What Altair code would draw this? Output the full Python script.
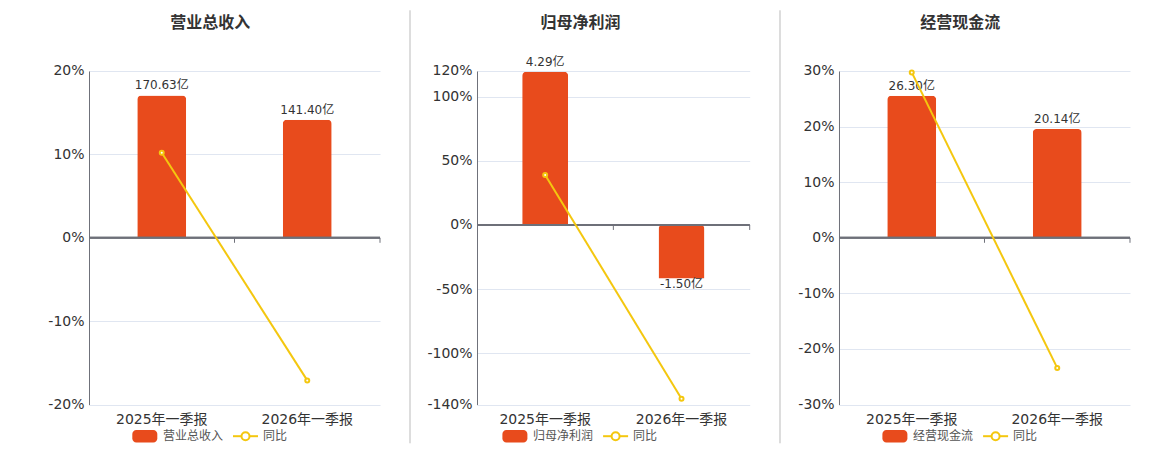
import altair as alt
import pandas as pd

# ---------------- data ----------------
periods = ["2025年一季报", "2026年一季报"]

titles = ["营业总收入", "归母净利润", "经营现金流"]

revenue = [170.63, 141.40]
revenue_yoy = [10.2, -17.1]

profit = [4.29, -1.50]
profit_yoy = [39.0, -135.4]

cashflow = [26.30, 20.14]
cashflow_yoy = [29.75, -23.4]

yoy_name = "同比"

ticks_revenue = [-20, -10, 0, 10, 20]
ticks_profit = [-140, -100, -50, 0, 50, 100, 120]
ticks_cashflow = [-30, -20, -10, 0, 10, 20, 30]

# ---------------- style ----------------
BAR = "#E84B1C"
YEL = "#F4C70F"
AXIS = "#6E7079"
GRID = "#E0E6F1"
TXT = "#333333"
FONT = "DejaVu Sans, Noto Sans CJK SC"
H = 333.6


def panel(title, values, yoy, ticks, bar_domain, width, legend_x, title_x,
          sep_x=None, anchor=False):
    df = pd.DataFrame({"period": periods, "value": values, "yoy": yoy})
    ydom = [min(ticks), max(ticks)]
    base = alt.Chart(df)
    xenc = alt.X("period:N", sort=periods,
                 scale=alt.Scale(paddingInner=0, paddingOuter=0),
                 axis=alt.Axis(title=None, labelAngle=0, ticks=False, domain=False,
                               labelFontSize=14, labelColor=TXT, labelFont=FONT,
                               labelPadding=8))
    ybar = alt.Y("value:Q", scale=alt.Scale(domain=bar_domain, nice=False, zero=False),
                 axis=None)
    bars = base.mark_bar(color=BAR, width=round(width * 0.168), cornerRadiusEnd=4).encode(
        x=xenc, y=ybar)
    lab = base.transform_calculate(
        label="(datum.value < 0 ? '-' : '') + format(abs(datum.value), '.2f') + '亿'")
    lab_pos = lab.transform_filter("datum.value >= 0").mark_text(
        baseline="alphabetic", dy=-6, fontSize=12, color=TXT, font=FONT).encode(
        x="period:N", y=ybar, text="label:N")
    lab_neg = lab.transform_filter("datum.value < 0").mark_text(
        baseline="top", dy=0, fontSize=12, color=TXT, font=FONT).encode(
        x="period:N", y=ybar, text="label:N")

    yscale = alt.Scale(domain=ydom, nice=False, zero=False)
    yline = alt.Y("yoy:Q", scale=yscale,
                  axis=alt.Axis(orient="left", title=None, values=ticks,
                                labelExpr="datum.value + '%'", grid=True,
                                gridColor=GRID, gridWidth=1, domain=True,
                                domainColor=AXIS, domainWidth=1, ticks=False,
                                labelFontSize=14, labelColor=TXT, labelFont=FONT,
                                labelPadding=5, labelOverlap=False))
    zero = base.mark_rule(color=AXIS, strokeWidth=2).encode(
        y=alt.Y(datum=0, scale=yscale, axis=None),
        x=alt.value(0), x2=alt.value(width))
    tks = base.mark_rule(color=AXIS, strokeWidth=1, y2Offset=5).encode(
        x=alt.X("period:N", bandPosition=1),
        y=alt.Y(datum=0, scale=yscale, axis=None),
        y2=alt.Y2(datum=0))
    line = base.mark_line(color=YEL, strokeWidth=2).encode(x="period:N", y=yline)
    pts = base.mark_point(filled=True, fill="white", stroke=YEL, strokeWidth=2,
                          size=16, opacity=1).encode(
        x="period:N", y=alt.Y("yoy:Q", scale=yscale, axis=None))

    one = alt.Chart(pd.DataFrame({"k": [0]}))
    ly = 365.2
    ttl = one.mark_text(fontSize=16, fontWeight="bold", color=TXT,
                        font="Noto Sans CJK SC", baseline="middle", align="center").encode(
        x=alt.value(title_x), y=alt.value(-47.7), text=alt.value(title))
    leg_rect = one.mark_rect(color=BAR, cornerRadius=4).encode(
        x=alt.value(legend_x), x2=alt.value(legend_x + 25),
        y=alt.value(ly - 6.3), y2=alt.value(ly + 6.3))
    leg_t1 = one.mark_text(fontSize=12, color="#555555", font=FONT, align="left",
                           baseline="middle").encode(
        x=alt.value(legend_x + 30.7), y=alt.value(ly), text=alt.value(title))
    leg_line = one.mark_rule(color=YEL, strokeWidth=2).encode(
        x=alt.value(legend_x + 100.7), x2=alt.value(legend_x + 125.7), y=alt.value(ly))
    leg_pt = one.mark_point(filled=True, fill="white", stroke=YEL, strokeWidth=2,
                            size=64, opacity=1).encode(
        x=alt.value(legend_x + 113.2), y=alt.value(ly))
    leg_t2 = one.mark_text(fontSize=12, color="#555555", font=FONT, align="left",
                           baseline="middle").encode(
        x=alt.value(legend_x + 130.7), y=alt.value(ly), text=alt.value(yoy_name))

    layers = [bars, lab_pos, lab_neg, zero, tks, line, pts, ttl,
              leg_rect, leg_t1, leg_line, leg_pt, leg_t2]
    if sep_x is not None:
        layers.append(one.mark_rule(color="#BBBBBB", strokeWidth=1).encode(
            x=alt.value(sep_x), y=alt.value(-60.7), y2=alt.value(372.3)))
    if anchor:
        layers.append(one.mark_rule(opacity=0).encode(
            x=alt.value(-81), y=alt.value(-62.7), y2=alt.value(0)))
    return alt.layer(*layers).resolve_scale(y="independent").properties(
        width=width, height=H)


def spacer(w):
    return alt.Chart(pd.DataFrame({"k": [0]})).mark_rule(opacity=0).encode(
        x=alt.value(0), y=alt.value(0)).properties(width=w, height=H)


p1 = panel(titles[0], revenue, revenue_yoy, ticks_revenue, [-200, 200], 291,
           43.3, 121.2, anchor=True)
p2 = panel(titles[1], profit, profit_yoy, ticks_profit, [-5.026, 4.308], 272.7,
           25.4, 103.5, sep_x=-67)
p3 = panel(titles[2], cashflow, cashflow_yoy, ticks_cashflow, [-30.86, 30.86], 291,
           43.4, 121.2, sep_x=-59)

chart = alt.hconcat(
    p1, spacer(97), p2, spacer(89), p3, spacing=0, bounds="flush"
).properties(padding=0).configure_view(stroke=None)

chart.save("out.html", embed_options={"renderer": "svg", "actions": False})
